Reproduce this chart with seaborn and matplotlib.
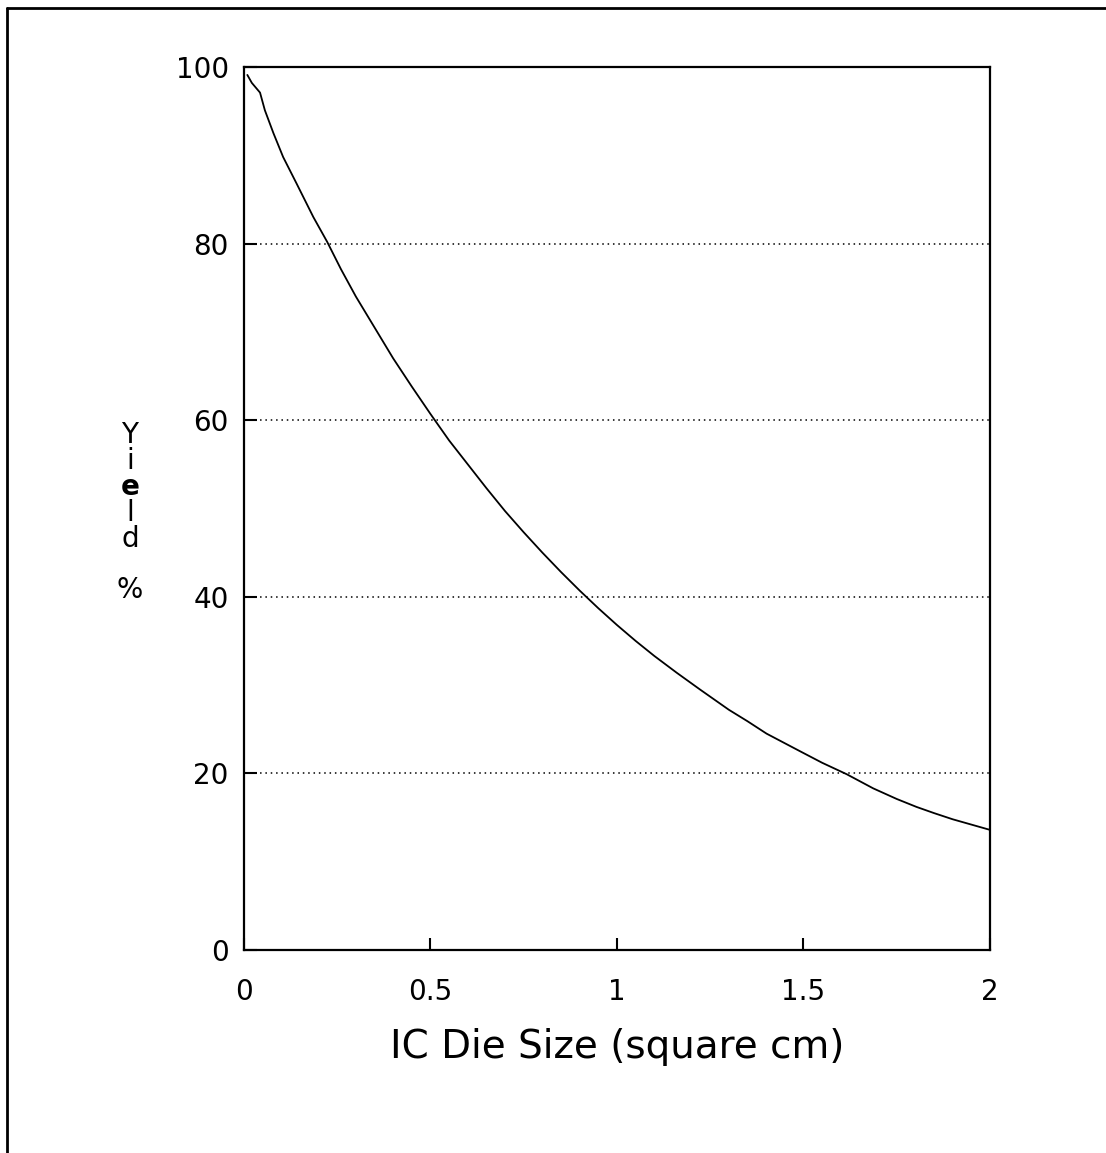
import numpy as np
import pandas as pd
import matplotlib
matplotlib.use("Agg")
import matplotlib.pyplot as plt
import seaborn as sns
from matplotlib.lines import Line2D

# --- valores ---
die_size = [0.009, 0.021, 0.043, 0.056, 0.079, 0.105, 0.141, 0.186, 0.223,
            0.26, 0.30, 0.35, 0.40, 0.45, 0.50, 0.55, 0.60, 0.65, 0.70,
            0.75, 0.80, 0.85, 0.90, 0.95, 1.00, 1.05, 1.10, 1.16, 1.2225,
            1.30, 1.35, 1.401, 1.491, 1.55, 1.616, 1.687, 1.75, 1.803,
            1.85, 1.90, 1.95, 2.00]
yield_pct = [99.1, 98.2, 97.1, 95.1, 92.5, 89.8, 86.8, 83.0, 80.2,
             77.1, 74.0, 70.5, 67.0, 63.8, 60.7, 57.7, 55.0, 52.3, 49.7,
             47.3, 45.0, 42.8, 40.7, 38.7, 36.8, 35.0, 33.3, 31.4, 29.5,
             27.2, 25.9, 24.5, 22.5, 21.2, 19.9, 18.3, 17.1, 16.2,
             15.5, 14.8, 14.2, 13.6]

x_ticks = [0, 0.5, 1, 1.5, 2]
x_tick_labels = ['0', '0.5', '1', '1.5', '2']
y_ticks = [0, 20, 40, 60, 80, 100]
y_tick_labels = ['0', '20', '40', '60', '80', '100']
grid_levels = [20, 40, 60, 80]

sns.set_theme(style="white")
plt.rcParams['font.family'] = ['DejaVu Sans']

fig = plt.figure(figsize=(11.06, 11.53), dpi=100)
ax = fig.add_axes([0.2206, 0.1761, 0.6745, 0.7658])

df = pd.DataFrame({'size': die_size, 'yield': yield_pct})
sns.lineplot(data=df, x='size', y='yield', color='black', linewidth=1.3, ax=ax)

# linhas pontilhadas horizontais
for g in grid_levels:
    ax.axhline(g, color='black', linestyle=(0, (1, 2.5)), linewidth=1.1)

ax.set_xlim(0, 2)
ax.set_ylim(0, 100)
ax.set_xticks(x_ticks)
ax.set_xticklabels(x_tick_labels)
ax.set_yticks(y_ticks)
ax.set_yticklabels(y_tick_labels)

ax.tick_params(axis='both', direction='in', length=9, width=1.5,
               colors='black', labelsize=20, left=True, bottom=True,
               right=False, top=False)
ax.tick_params(axis='x', pad=20)
ax.tick_params(axis='y', pad=11)

for s in ax.spines.values():
    s.set_linewidth(1.6)
    s.set_color('black')

ax.set_xlabel('IC Die Size (square cm)', fontsize=28, color='black')
ax.xaxis.set_label_coords(0.5, -0.088)
ax.set_ylabel('Y\ni\n$\\mathbf{e}$\nl\nd\n\n%', rotation=0, fontsize=20,
              linespacing=0.9, ha='center', va='center', color='black')
ax.yaxis.set_label_coords(-0.153, 0.495)

# moldura externa (só esquerda e topo)
fig.add_artist(Line2D([7 / 1106, 7 / 1106], [0, 1 - 8 / 1153],
                      transform=fig.transFigure, color='black', linewidth=2))
fig.add_artist(Line2D([7 / 1106, 1], [1 - 8 / 1153, 1 - 8 / 1153],
                      transform=fig.transFigure, color='black', linewidth=2))

plt.savefig('out.png', dpi=100)
